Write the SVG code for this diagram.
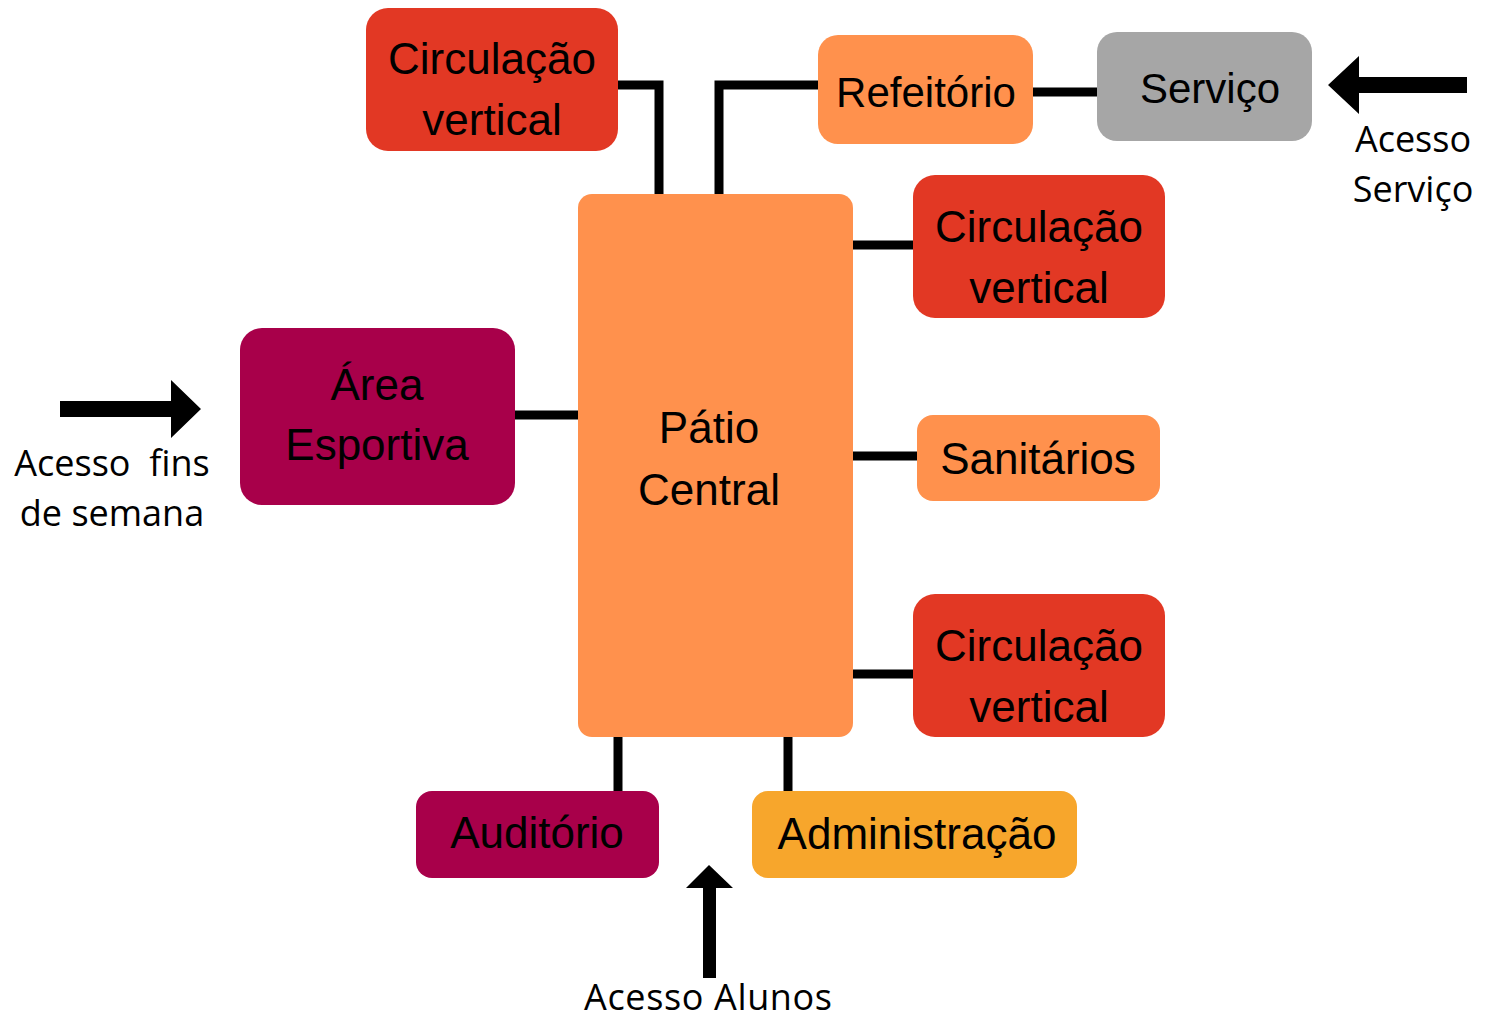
<svg xmlns="http://www.w3.org/2000/svg" width="1486" height="1021" viewBox="0 0 1486 1021">
<style>
.lbl{font-family:"Liberation Sans",Arial,sans-serif;font-size:44px;fill:#000;text-anchor:middle}
.acc{font-family:"Open Sans","Noto Sans",sans-serif;font-size:36px;fill:#000;text-anchor:middle}
.red{fill:#E23824}
.org{fill:#FF914D}
.mar{fill:#A8004A}
.gry{fill:#A6A6A6}
.yel{fill:#F7A62C}
.con{stroke:#000;stroke-width:9;fill:none}
</style>
<rect width="1486" height="1021" fill="#fff"/>
<g id="connectors">
<polyline class="con" points="618,85 659,85 659,194"/>
<polyline class="con" points="719,194 719,85 818,85"/>
<line class="con" x1="1033" y1="92" x2="1097" y2="92"/>
<line class="con" x1="853" y1="245" x2="913" y2="245"/>
<line class="con" x1="515" y1="415" x2="578" y2="415"/>
<line class="con" x1="853" y1="456" x2="917" y2="456"/>
<line class="con" x1="853" y1="674" x2="913" y2="674"/>
<line class="con" x1="618" y1="737" x2="618" y2="791"/>
<line class="con" x1="788" y1="737" x2="788" y2="791"/>
</g>
<g id="arrows">
<polygon points="1467,77 1359,77 1359,56 1328,85 1359,114 1359,93 1467,93" fill="#000"/>
<polygon points="60,401 171,401 171,380 201,409 171,438 171,417 60,417" fill="#000"/>
<polygon points="703,978 703,888 686,888 709,865 733,888 716,888 716,978" fill="#000"/>
</g>
<g id="circ1"><rect class="red" x="366" y="8" width="252" height="143" rx="22"/><text class="lbl" x="492" y="74">Circulação</text><text class="lbl" x="492" y="135">vertical</text></g>
<g id="refeitorio"><rect class="org" x="818" y="35" width="215" height="109" rx="20"/><text class="lbl" x="926" y="107" style="font-size:42px">Refeitório</text></g>
<g id="servico"><rect class="gry" x="1097" y="32" width="215" height="109" rx="20"/><text class="lbl" x="1210" y="103" style="font-size:42px">Serviço</text></g>
<g id="circ2"><rect class="red" x="913" y="175" width="252" height="143" rx="22"/><text class="lbl" x="1039" y="242">Circulação</text><text class="lbl" x="1039" y="303">vertical</text></g>
<g id="area"><rect class="mar" x="240" y="328" width="275" height="177" rx="22"/><text class="lbl" x="377" y="400">Área</text><text class="lbl" x="377" y="460">Esportiva</text></g>
<g id="patio"><rect class="org" x="578" y="194" width="275" height="543" rx="14"/><text class="lbl" x="709" y="443">Pátio</text><text class="lbl" x="709" y="505">Central</text></g>
<g id="sanitarios"><rect class="org" x="917" y="415" width="243" height="86" rx="16"/><text class="lbl" x="1038" y="474">Sanitários</text></g>
<g id="circ3"><rect class="red" x="913" y="594" width="252" height="143" rx="22"/><text class="lbl" x="1039" y="661">Circulação</text><text class="lbl" x="1039" y="722">vertical</text></g>
<g id="auditorio"><rect class="mar" x="416" y="791" width="243" height="87" rx="16"/><text class="lbl" x="537" y="848">Auditório</text></g>
<g id="admin"><rect class="yel" x="752" y="791" width="325" height="87" rx="16"/><text class="lbl" x="917" y="849">Administração</text></g>
<g id="labels">
<text class="acc" x="1413" y="152">Acesso</text>
<text class="acc" x="1413" y="202">Serviço</text>
<text class="acc" x="112" y="476" xml:space="preserve">Acesso  fins</text>
<text class="acc" x="112" y="526">de semana</text>
<text class="acc" x="708" y="1010" textLength="248" lengthAdjust="spacing">Acesso Alunos</text>
</g>
</svg>
